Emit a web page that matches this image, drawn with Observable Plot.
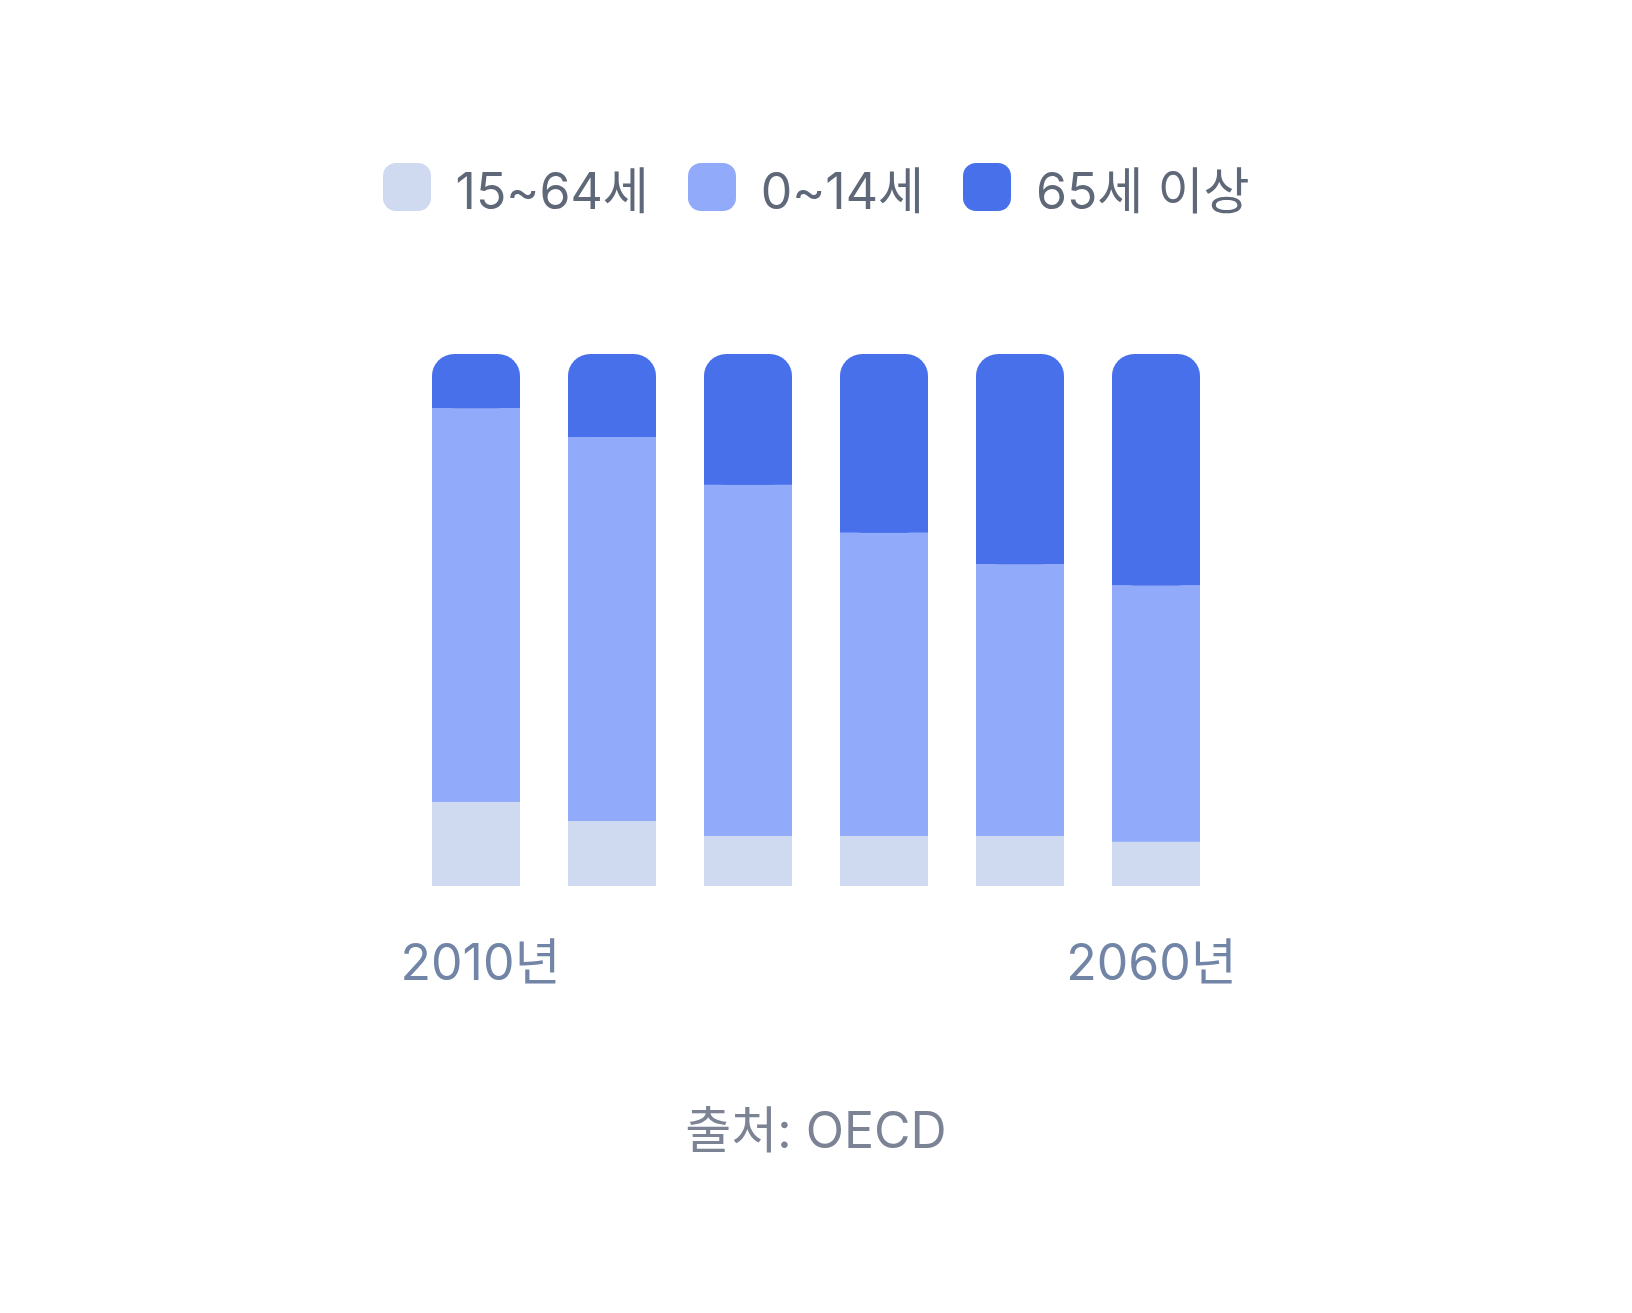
<!DOCTYPE html>
<html><head><meta charset="utf-8">
<script src="https://cdn.jsdelivr.net/npm/d3@7"></script>
<script src="https://cdn.jsdelivr.net/npm/@observablehq/plot@0.6"></script>
<style>
html,body{margin:0;padding:0;background:#fff;}
body{width:1632px;height:1313px;font-family:Inter,"Noto Sans CJK KR",sans-serif;overflow:hidden;}
#legend{display:flex;justify-content:center;align-items:center;gap:39px;height:50px;margin-top:162px;margin-bottom:48px;font-size:50px;color:#5f6878;}
.item{display:flex;align-items:center;}
.sw{width:48px;height:48px;border-radius:13px;margin-right:25px;}
#chart svg{display:block;}
#caption{text-align:center;font-size:50px;line-height:60px;color:#7b8394;margin-top:80px;}
</style></head><body>
<div id="legend"></div>
<div id="chart"></div>
<div id="caption">출처: OECD</div>
<script>
const years = [2010, 2020, 2030, 2040, 2050, 2060];
const groups = ["15~64세", "0~14세", "65세 이상"];
const colors = ["#cfdaf0", "#91aaf9", "#4870eb"];
const share1564 = [15.8, 12.2, 9.4, 9.4, 9.4, 8.3];
const share014 = [74.0, 72.2, 66.0, 57.0, 51.1, 48.2];
const share65 = [10.2, 15.6, 24.6, 33.6, 39.5, 43.5];
const firstTick = [2010];
const lastTick = [2060];
const tickSuffix = "년";

const series = [share1564, share014, share65];
const rows = [];
years.forEach((yr, i) => {
  let acc = 0;
  series.forEach((s, g) => {
    const y1 = acc, y2 = acc + s[i];
    rows.push({year: yr, group: groups[g], y1, y2, mid: (y1 + y2) / 2, top: g === series.length - 1});
    acc = y2;
  });
});
const lower = rows.filter(d => !d.top);
const upper = rows.filter(d => d.top);

// legend
const legend = document.getElementById("legend");
groups.forEach((g, i) => {
  const item = document.createElement("div");
  item.className = "item";
  const sw = document.createElement("div");
  sw.className = "sw";
  sw.style.background = colors[i];
  const t = document.createElement("span");
  t.textContent = g;
  item.append(sw, t);
  legend.append(item);
});

const axisStyle = {tickFormat: d => d + tickSuffix, tickSize: 0, tickPadding: 58, fontSize: 50, fill: "#7285a6", label: null};

const chart = Plot.plot({
  width: 1632, height: 760,
  marginTop: 94, marginBottom: 134, marginLeft: 384, marginRight: 384,
  style: {fontFamily: "Inter, 'Noto Sans CJK KR', sans-serif", background: "#fff"},
  x: {type: "band", domain: years, padding: 0.35},
  y: {domain: [0, 100], axis: null},
  color: {domain: groups, range: colors},
  marks: [
    Plot.barY(lower, {x: "year", y1: "y1", y2: "y2", fill: "group"}),
    Plot.barY(upper, {x: "year", y1: "y1", y2: "y2", fill: "group", rx: 22, ry: 22}),
    Plot.barY(upper, {x: "year", y1: "y1", y2: "mid", fill: "group"}),
    Plot.axisX({...axisStyle, ticks: firstTick, dx: 4}),
    Plot.axisX({...axisStyle, ticks: lastTick, dx: -5})
  ]
});
document.getElementById("chart").append(chart);
</script>
</body></html>
